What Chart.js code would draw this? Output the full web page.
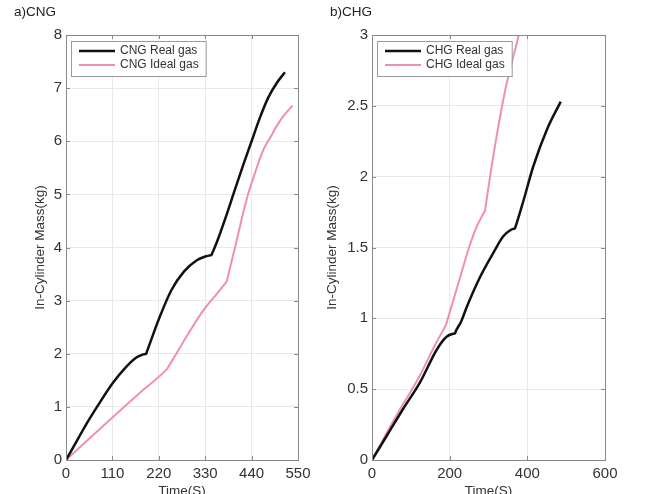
<!DOCTYPE html>
<html>
<head>
<meta charset="utf-8">
<script src="https://cdn.jsdelivr.net/npm/chart.js@4.4.1/dist/chart.umd.min.js"></script>
<style>
  html, body { margin: 0; padding: 0; background: #fff; }
  .panel { position: absolute; top: 0; width: 323px; height: 494px; }
  #panelA { left: 0; }
  #panelB { left: 323px; }
</style>
</head>
<body>
<div class="panel" id="panelA"><canvas id="chartA"></canvas></div>
<div class="panel" id="panelB"><canvas id="chartB"></canvas></div>
<script>
// a) CNG - in-cylinder mass vs time
const cngRealTime  = [0, 20, 50, 80, 110, 140, 165, 180, 188, 190, 192, 200, 220, 250, 280, 310, 330, 343, 345, 347, 352, 360, 380, 400, 420, 440, 460, 480, 500, 519];
const cngRealMass  = [0, 0.28, 0.7, 1.08, 1.44, 1.73, 1.92, 1.98, 1.995, 2.0, 2.045, 2.22, 2.65, 3.2, 3.55, 3.76, 3.83, 3.855, 3.86, 3.9, 3.99, 4.15, 4.6, 5.08, 5.55, 6.0, 6.45, 6.83, 7.1, 7.3];
const cngIdealTime = [0, 110, 180, 238, 240, 242, 260, 290, 326, 360, 379, 381, 383, 400, 428, 450, 468, 485, 499, 518, 537];
const cngIdealMass = [0, 0.8, 1.3, 1.70, 1.72, 1.746, 1.98, 2.38, 2.82, 3.15, 3.34, 3.36, 3.425, 3.98, 4.9, 5.45, 5.84, 6.08, 6.28, 6.5, 6.67];
const cngXTicks = [0, 110, 220, 330, 440, 550];

// b) CHG - in-cylinder mass vs time
const chgRealTime  = [0, 40, 80, 124, 167, 192, 212, 214, 216, 230, 244, 278, 312, 338, 355, 366, 368, 370, 390, 415, 450, 486];
const chgRealMass  = [0, 0.18, 0.36, 0.55, 0.78, 0.87, 0.893, 0.895, 0.91, 0.98, 1.08, 1.29, 1.46, 1.58, 1.62, 1.633, 1.635, 1.65, 1.83, 2.07, 2.33, 2.53];
const chgIdealTime = [0, 60, 124, 160, 188, 190, 192, 227, 250, 270, 289, 291, 293, 312, 343, 377, 382];
const chgIdealMass = [0, 0.3, 0.6, 0.8, 0.94, 0.95, 0.968, 1.29, 1.5, 1.65, 1.75, 1.76, 1.796, 2.14, 2.61, 2.99, 3.05];
const chgXTicks = [0, 200, 400, 600];

const FONT = "'Liberation Sans', Arial, sans-serif";
const PINK = '#ef8fb4';

function pts(xs, ys) {
    return xs.map((x, i) => ({ x: x, y: ys[i] }));
}

// Box, inner tick marks, panel label and legend drawn MATLAB-style
function matlabPlugin(label, labelX) {
    return {
        id: 'matlab',
        afterDatasetsDraw(chart) {
            const { ctx, chartArea: a, scales } = chart;
            ctx.save();
            ctx.strokeStyle = '#8a8a8a';
            ctx.lineWidth = 1;
            ctx.strokeRect(a.left + 0.5, a.top + 0.5, a.right - a.left, a.bottom - a.top);

            // inner ticks
            ctx.beginPath();
            scales.x.ticks.forEach(t => {
                const px = Math.round(scales.x.getPixelForValue(t.value)) + 0.5;
                ctx.moveTo(px, a.bottom); ctx.lineTo(px, a.bottom - 4);
                ctx.moveTo(px, a.top); ctx.lineTo(px, a.top + 4);
            });
            scales.y.ticks.forEach(t => {
                const py = Math.round(scales.y.getPixelForValue(t.value)) + 0.5;
                ctx.moveTo(a.left, py); ctx.lineTo(a.left + 4, py);
                ctx.moveTo(a.right, py); ctx.lineTo(a.right - 4, py);
            });
            ctx.stroke();

            // panel label
            ctx.fillStyle = '#222';
            ctx.font = '13.5px ' + FONT;
            ctx.textBaseline = 'middle';
            ctx.textAlign = 'left';
            ctx.fillText(label, labelX, 12);

            // legend
            ctx.font = '12px ' + FONT;
            const ds = chart.data.datasets;
            const textW = Math.max(...ds.map(d => ctx.measureText(d.label).width));
            const bx = a.left + 5, by = a.top + 6;
            const bw = 50 + textW + 6, bh = 35;
            ctx.fillStyle = '#fff';
            ctx.fillRect(bx, by, bw, bh);
            ctx.strokeStyle = '#9a9a9a';
            ctx.strokeRect(bx + 0.5, by + 0.5, bw, bh);
            ds.forEach((d, i) => {
                const y = by + 10 + i * 14;
                ctx.strokeStyle = d.borderColor;
                ctx.lineWidth = d.borderWidth;
                ctx.beginPath();
                ctx.moveTo(bx + 8, y); ctx.lineTo(bx + 44, y);
                ctx.stroke();
                ctx.fillStyle = '#333';
                ctx.fillText(d.label, bx + 49, y);
            });
            ctx.restore();
        }
    };
}

function makeChart(canvasId, opts) {
    const ctx = document.getElementById(canvasId).getContext('2d');
    return new Chart(ctx, {
        type: 'line',
        data: {
            datasets: [{
                label: opts.realLabel,
                data: pts(opts.realTime, opts.realMass),
                borderColor: '#111',
                borderWidth: 2.5,
                pointRadius: 0,
                cubicInterpolationMode: 'monotone'
            }, {
                label: opts.idealLabel,
                data: pts(opts.idealTime, opts.idealMass),
                borderColor: PINK,
                borderWidth: 2,
                pointRadius: 0,
                cubicInterpolationMode: 'monotone'
            }]
        },
        options: {
            responsive: true,
            maintainAspectRatio: false,
            animation: false,
            layout: { padding: { top: 35, right: opts.padRight, left: 0, bottom: 0 } },
            plugins: {
                legend: { display: false },
                tooltip: { enabled: false },
                title: { display: false }
            },
            scales: {
                x: {
                    type: 'linear',
                    min: opts.xTicks[0],
                    max: opts.xTicks[opts.xTicks.length - 1],
                    afterBuildTicks: s => { s.ticks = opts.xTicks.map(v => ({ value: v })); },
                    afterFit: s => { s.height = 34; },
                    grid: { color: '#e8e8e8', drawTicks: false },
                    border: { display: false },
                    ticks: { color: '#333', font: { family: FONT, size: 15 }, padding: 5, maxRotation: 0, callback: v => '' + v },
                    title: { display: true, text: 'Time(S)', color: '#333', font: { family: FONT, size: 13.5 }, padding: { top: 0, bottom: -5 } }
                },
                y: {
                    min: 0,
                    max: opts.yMax,
                    ticks: { stepSize: opts.yStep, color: '#333', font: { family: FONT, size: 15 }, padding: 4, callback: v => '' + v },
                    afterFit: s => { s.width = opts.yWidth; },
                    grid: { color: '#e8e8e8', drawTicks: false },
                    border: { display: false },
                    title: { display: true, text: 'In-Cylinder Mass(kg)', color: '#333', font: { family: FONT, size: 13.5 }, padding: { top: opts.yTitlePad, bottom: 0 } }
                }
            }
        },
        plugins: [matlabPlugin(opts.panelLabel, opts.labelX)]
    });
}

makeChart('chartA', {
    realLabel: 'CNG Real gas', idealLabel: 'CNG Ideal gas',
    realTime: cngRealTime, realMass: cngRealMass,
    idealTime: cngIdealTime, idealMass: cngIdealMass,
    xTicks: cngXTicks, yMax: 8, yStep: 1,
    yWidth: 66, padRight: 25, yTitlePad: 32,
    panelLabel: 'a)CNG', labelX: 14
});

makeChart('chartB', {
    realLabel: 'CHG Real gas', idealLabel: 'CHG Ideal gas',
    realTime: chgRealTime, realMass: chgRealMass,
    idealTime: chgIdealTime, idealMass: chgIdealMass,
    xTicks: chgXTicks, yMax: 3, yStep: 0.5,
    yWidth: 49, padRight: 41, yTitlePad: 1,
    panelLabel: 'b)CHG', labelX: 7
});
</script>
</body>
</html>
